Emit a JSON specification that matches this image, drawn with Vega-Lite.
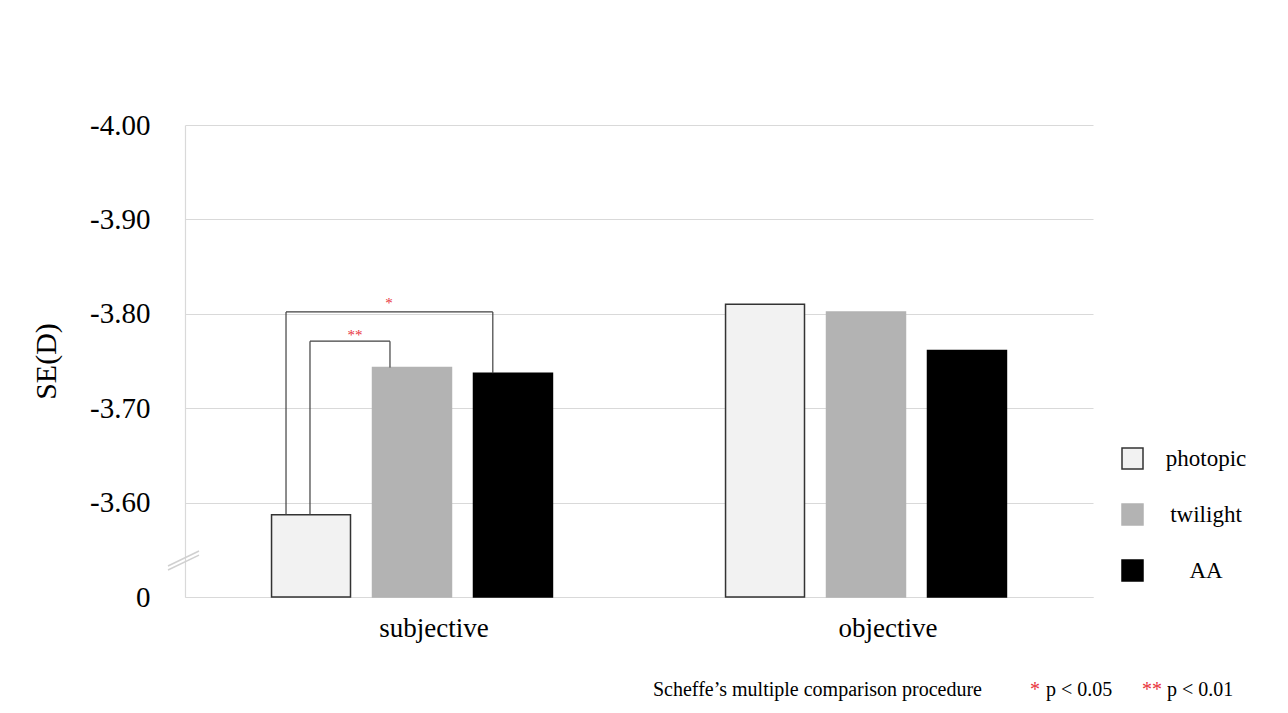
{
  "$schema": "https://vega.github.io/schema/vega-lite/v6.json",
  "autosize": "none",
  "width": 908,
  "height": 472,
  "padding": {"left": 185, "top": 125, "right": 195, "bottom": 116},
  "background": "white",
  "config": {
    "font": "Liberation Serif",
    "view": {"stroke": null}
  },
  "datasets": {
    "bars": [
      {"group": "subjective", "cond": "photopic", "value": -3.587},
      {"group": "subjective", "cond": "twilight", "value": -3.743},
      {"group": "subjective", "cond": "AA", "value": -3.737},
      {"group": "objective", "cond": "photopic", "value": -3.810},
      {"group": "objective", "cond": "twilight", "value": -3.802},
      {"group": "objective", "cond": "AA", "value": -3.761}
    ],
    "brackets": [
      {"x1": 0.2225, "x2": 0.2225, "y1": -3.587, "y2": -3.802},
      {"x1": 0.2225, "x2": 0.678, "y1": -3.802, "y2": -3.802},
      {"x1": 0.678, "x2": 0.678, "y1": -3.802, "y2": -3.737},
      {"x1": 0.2753, "x2": 0.2753, "y1": -3.587, "y2": -3.771},
      {"x1": 0.2753, "x2": 0.4515, "y1": -3.771, "y2": -3.771},
      {"x1": 0.4515, "x2": 0.4515, "y1": -3.771, "y2": -3.743}
    ],
    "breaks": [
      {"x1": -0.0374, "x2": 0.0308, "y1": -3.5328, "y2": -3.5487},
      {"x1": -0.0374, "x2": 0.0308, "y1": -3.5286, "y2": -3.5444}
    ],
    "stars": [
      {"x": 0.4493, "y": -3.8115, "label": "*"},
      {"x": 0.3744, "y": -3.778, "label": "**"}
    ],
    "caption": [
      {"x": 1.0308, "y": -3.4016, "label": "Scheffe’s multiple comparison procedure", "kind": "text"},
      {"x": 1.861, "y": -3.4016, "label": "*", "kind": "star"},
      {"x": 1.8965, "y": -3.4016, "label": "p < 0.05", "kind": "text"},
      {"x": 2.108, "y": -3.4016, "label": "**", "kind": "star"},
      {"x": 2.163, "y": -3.4016, "label": "p < 0.01", "kind": "text"}
    ]
  },
  "layer": [
    {
      "data": {"name": "bars"},
      "mark": {"type": "bar", "strokeWidth": 1.5},
      "encoding": {
        "x": {
          "field": "group",
          "type": "nominal",
          "sort": ["subjective", "objective"],
          "scale": {"paddingInner": 0, "paddingOuter": 0},
          "axis": {
            "title": null,
            "labelAngle": 0,
            "labelFontSize": 27,
            "labelColor": "#000",
            "labelPadding": 18,
            "labelOffset": 22,
            "ticks": false,
            "domainColor": "#d9d9d9",
            "domainWidth": 1.2
          }
        },
        "xOffset": {
          "field": "cond",
          "type": "nominal",
          "sort": ["photopic", "twilight", "AA"],
          "scale": {"paddingInner": 0.218, "paddingOuter": 0.857}
        },
        "y": {
          "field": "value",
          "type": "quantitative",
          "scale": {"domain": [-4.0, -3.5], "reverse": true, "zero": false, "nice": false},
          "axis": {
            "title": "SE(D)",
            "titleFontSize": 30,
            "titleFontWeight": "normal",
            "titleColor": "#000",
            "titlePadding": 28,
            "values": [-4.0, -3.9, -3.8, -3.7, -3.6, -3.5],
            "labelExpr": "datum.value == -3.5 ? '0' : '-' + format(-datum.value, '.2f')",
            "labelFontSize": 29,
            "labelColor": "#000",
            "labelPadding": 35,
            "ticks": false,
            "domainColor": "#d9d9d9",
            "domainWidth": 1.2,
            "gridColor": "#d9d9d9",
            "gridWidth": 1.2
          }
        },
        "y2": {"datum": -3.5},
        "fill": {
          "field": "cond",
          "type": "nominal",
          "scale": {"domain": ["photopic", "twilight", "AA"], "range": ["#f2f2f2", "#b3b3b3", "#000000"]},
          "legend": {
            "title": null,
            "orient": "none",
            "legendX": 936,
            "legendY": 322,
            "symbolType": "square",
            "symbolSize": 441,
            "symbolStrokeWidth": 1.5,
            "labelFontSize": 23,
            "labelColor": "#000",
            "labelAlign": "center",
            "labelOffset": 62,
            "rowPadding": 29
          }
        },
        "stroke": {
          "field": "cond",
          "type": "nominal",
          "scale": {"domain": ["photopic", "twilight", "AA"], "range": ["#333333", "#b3b3b3", "#000000"]},
          "legend": null
        }
      }
    },
    {
      "data": {"name": "brackets"},
      "mark": {"type": "rule", "color": "#404040", "strokeWidth": 1.2},
      "encoding": {
        "x": {"field": "x1", "type": "quantitative", "scale": {"domain": [0, 2], "nice": false, "zero": false}, "axis": null},
        "x2": {"field": "x2"},
        "y": {"field": "y1", "type": "quantitative"},
        "y2": {"field": "y2"}
      }
    },
    {
      "data": {"name": "breaks"},
      "mark": {"type": "rule", "color": "#d0d0d0", "strokeWidth": 1.5, "clip": false},
      "encoding": {
        "x": {"field": "x1", "type": "quantitative", "scale": {"domain": [0, 2], "nice": false, "zero": false}, "axis": null},
        "x2": {"field": "x2"},
        "y": {"field": "y1", "type": "quantitative"},
        "y2": {"field": "y2"}
      }
    },
    {
      "data": {"name": "stars"},
      "mark": {"type": "text", "color": "#e8323c", "fontSize": 15, "baseline": "middle", "align": "center"},
      "encoding": {
        "x": {"field": "x", "type": "quantitative", "scale": {"domain": [0, 2], "nice": false, "zero": false}, "axis": null},
        "y": {"field": "y", "type": "quantitative"},
        "text": {"field": "label"}
      }
    },
    {
      "data": {"name": "caption"},
      "mark": {"type": "text", "fontSize": 20, "baseline": "middle", "align": "left", "clip": false},
      "encoding": {
        "x": {"field": "x", "type": "quantitative", "scale": {"domain": [0, 2], "nice": false, "zero": false}, "axis": null},
        "y": {"field": "y", "type": "quantitative"},
        "text": {"field": "label"},
        "color": {
          "field": "kind",
          "type": "nominal",
          "scale": {"domain": ["text", "star"], "range": ["#000000", "#e8323c"]},
          "legend": null
        }
      }
    }
  ],
  "resolve": {"scale": {"x": "independent", "color": "independent"}}
}
